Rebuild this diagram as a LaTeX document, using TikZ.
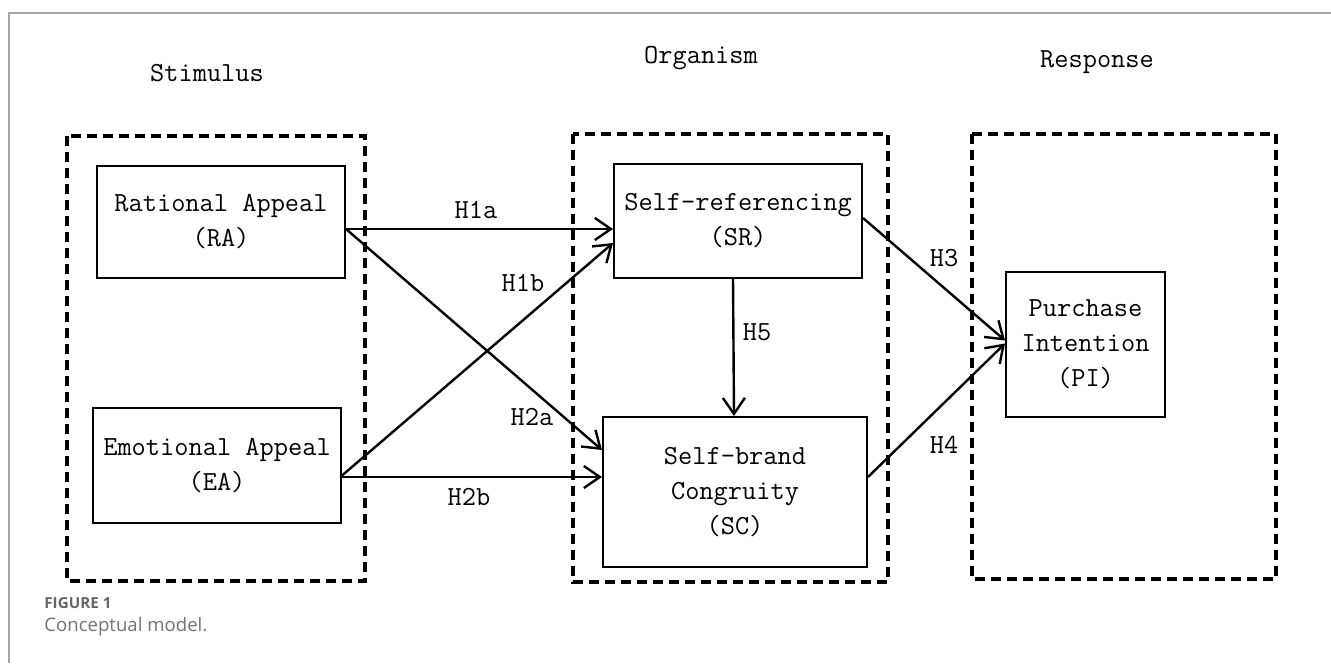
\documentclass[tikz,border=0pt]{standalone}
\usepackage{fontspec}
\newfontfamily\capfont{Open Sans}
\usetikzlibrary{arrows.meta,calc}

\tikzset{
  box/.style={draw, line width=1pt, inner sep=0pt, align=center},
  dashbox/.style={line width=1.6pt, dash pattern=on 5pt off 3pt},
  arr/.style={-{Straight Barb[length=8pt,width=11pt]}, line width=1.2pt},
  lbl/.style={inner sep=0pt},
  captext/.style={inner sep=0pt, anchor=west, text=black!60}
}

\begin{document}
\begin{tikzpicture}[x=0.5pt, y=-0.5pt, font=\fontsize{13.8}{17.5}\selectfont\ttfamily]
    \useasboundingbox (0,0) rectangle (1331,663);

    % frame of the figure
    \draw[black!35, line width=0.6pt] (1331,13) -- (9,13) -- (9,663);

    % the three stages
    \foreach \name/\x/\y in {Stimulus/207/73, Organism/701/58, Response/1097/62}
        \node[lbl] (\name) at (\x,\y) {\name};

    \draw[dashbox] (67,136) rectangle (365,581);
    \draw[dashbox] (573,134) rectangle (888,582);
    \draw[dashbox] (972,134) rectangle (1276,579);

    % the constructs
    \node[box, minimum width=124pt, minimum height=56pt] (RA) at (221,222) {Rational Appeal\\(RA)};
    \node[box, minimum width=124pt, minimum height=57.5pt] (EA) at (217,465.5) {Emotional Appeal\\(EA)};
    \node[box, minimum width=124pt, minimum height=57pt] (SR) at (738,221) {Self-referencing\\(SR)};
    \node[box, minimum width=132pt, minimum height=75pt] (SC) at (735,492) {Self-brand\\Congruity\\(SC)};
    \node[box, minimum width=79.5pt, minimum height=72.5pt] (PI) at (1085.5,344.5) {Purchase\\Intention\\(PI)};

    % hypotheses
    \draw[arr] ($(RA.east)+(0,7)$) -- ($(SR.west)+(0,8)$);
    \draw[arr] ($(EA.east)+(0,10)$) -- ($(SR.west)+(0,22)$);
    \draw[arr] ($(RA.east)+(0,7)$) -- ($(SC.west)+(0,-42)$);
    \draw[arr] ($(EA.east)+(0,11.5)$) -- ($(SC.west)+(0,-15)$);
    \draw[arr] ($(SR.south)+(-5,0)$) -- ($(SC.north)+(-1,0)$);
    \draw[arr] ($(SR.east)+(0,-3)$) -- ($(PI.west)+(0,-4)$);
    \draw[arr] ($(SC.east)+(0,-15)$) -- ($(PI.west)+(0,-1)$);

    \foreach \name/\x/\y in {H1a/476/210, H1b/523/283, H2a/532/417, H2b/469/497, H5/757/332, H3/944/258, H4/944/445}
        \node[lbl] (\name) at (\x,\y) {\name};

    % caption
    \node[captext, font=\capfont\bfseries\fontsize{7.6}{9}\selectfont] (fig) at (44,603) {FIGURE 1};
    \node[captext, text=black!55, font=\capfont\fontsize{9.3}{11}\selectfont] (caption) at (44,627) {Conceptual model.};
\end{tikzpicture}
\end{document}
